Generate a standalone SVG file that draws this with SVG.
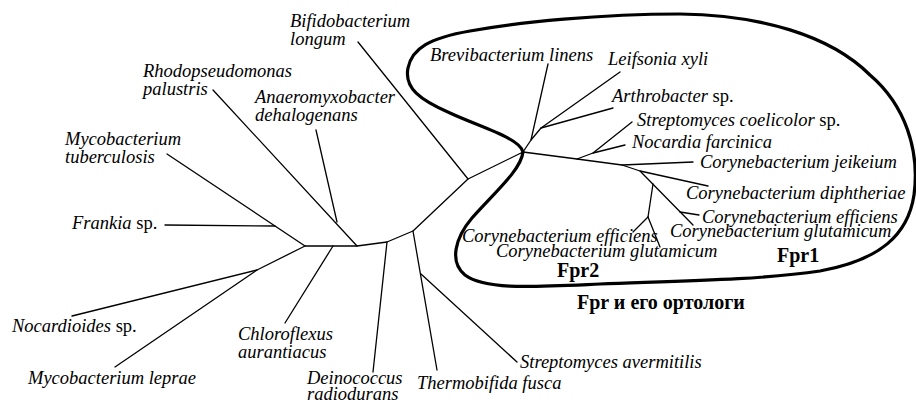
<svg xmlns="http://www.w3.org/2000/svg" width="916" height="403" viewBox="0 0 916 403">
<style>
.t{font-family:'Liberation Serif',Tinos,'DejaVu Serif',serif;font-style:italic;font-size:18.5px;fill:#000}
.t tspan.n{font-style:normal}
.b{font-family:'Liberation Serif',Tinos,'DejaVu Serif',serif;font-weight:bold;font-size:20px;fill:#000}
.br{stroke:#000;stroke-width:1.3;fill:none;stroke-linecap:round;stroke-linejoin:round}
.loop{stroke:#000;stroke-width:3.2;fill:none}
</style>
<rect width="916" height="403" fill="#fff"/>
<g id="connectors">
<polyline class="br" points="167,154 305,246 357,246 387,242 413,231 468,179 523,152 577,159 622,165 640,171 693,225"/>
<line class="br" x1="165" y1="225" x2="275" y2="226"/>
<polyline class="br" points="305,246 257,270 72,316"/>
<line class="br" x1="257" y1="270" x2="115" y2="367"/>
<line class="br" x1="333" y1="246" x2="285" y2="323"/>
<line class="br" x1="213" y1="90" x2="357" y2="246"/>
<line class="br" x1="316" y1="130" x2="337" y2="222"/>
<line class="br" x1="387" y1="242" x2="373" y2="372"/>
<line class="br" x1="413" y1="231" x2="437" y2="370"/>
<line class="br" x1="421" y1="274" x2="517" y2="362"/>
<line class="br" x1="358" y1="42" x2="468" y2="179"/>
<polyline class="br" points="523,152 531,140 548,64"/>
<polyline class="br" points="531,140 541,128 620,72"/>
<line class="br" x1="541" y1="128" x2="613" y2="108"/>
<polyline class="br" points="577,159 593,153 632,122"/>
<line class="br" x1="593" y1="153" x2="625" y2="145"/>
<line class="br" x1="622" y1="165" x2="693" y2="162"/>
<line class="br" x1="640" y1="171" x2="708" y2="186"/>
<line class="br" x1="653" y1="184" x2="648" y2="217"/>
<line class="br" x1="648" y1="217" x2="633" y2="232"/>
<line class="br" x1="648" y1="217" x2="660" y2="247"/>
<line class="br" x1="680" y1="212" x2="699" y2="215"/>
</g>
<g id="fpr-loop">
<path class="loop" d="M523,152 C521,170 495,192 472,218 C455,238 449,262 465,275 C485,290 530,287 600,284 C680,281 760,280 820,271 C880,260 908,235 914,195 C920,150 905,105 870,75 C830,35 760,15 680,14 C600,14 520,22 470,31 C430,38 412,48 408,68 C404,88 420,100 450,113 C480,127 520,138 523,152 Z"/>
</g>
<g id="n-bifido"><text class="t" x="290" y="27">Bifidobacterium</text><text class="t" x="290" y="45">longum</text></g>
<g id="n-rhodo"><text class="t" x="143" y="77">Rhodopseudomonas</text><text class="t" x="143" y="95">palustris</text></g>
<g id="n-anaero"><text class="t" x="255" y="103">Anaeromyxobacter</text><text class="t" x="255" y="121">dehalogenans</text></g>
<g id="n-mtub"><text class="t" x="65" y="145">Mycobacterium</text><text class="t" x="65" y="163">tuberculosis</text></g>
<g id="n-frankia"><text class="t" x="72" y="229">Frankia<tspan class="n"> sp.</tspan></text></g>
<g id="n-nocardioides"><text class="t" x="12" y="332">Nocardioides<tspan class="n"> sp.</tspan></text></g>
<g id="n-mlep"><text class="t" x="28" y="384">Mycobacterium leprae</text></g>
<g id="n-chloro"><text class="t" x="238" y="340">Chloroflexus</text><text class="t" x="238" y="358">aurantiacus</text></g>
<g id="n-deino"><text class="t" x="307" y="384">Deinococcus</text><text class="t" x="307" y="400">radiodurans</text></g>
<g id="n-thermo"><text class="t" x="417" y="389">Thermobifida fusca</text></g>
<g id="n-saver"><text class="t" x="520" y="368">Streptomyces avermitilis</text></g>
<g id="n-brevi"><text class="t" x="430" y="61">Brevibacterium linens</text></g>
<g id="n-leif"><text class="t" x="608" y="65">Leifsonia xyli</text></g>
<g id="n-arthro"><text class="t" x="612" y="102">Arthrobacter<tspan class="n"> sp.</tspan></text></g>
<g id="n-scoel"><text class="t" x="637" y="126">Streptomyces coelicolor<tspan class="n"> sp.</tspan></text></g>
<g id="n-nocardia"><text class="t" x="632" y="148">Nocardia farcinica</text></g>
<g id="n-cjei"><text class="t" x="700" y="168">Corynebacterium jeikeium</text></g>
<g id="n-cdip"><text class="t" x="686" y="199">Corynebacterium diphtheriae</text></g>
<g id="n-ceff1"><text class="t" x="702" y="223">Corynebacterium efficiens</text></g>
<g id="n-cglu1"><text class="t" x="670" y="237">Corynebacterium glutamicum</text></g>
<g id="n-ceff2"><text class="t" x="462" y="242">Corynebacterium efficiens</text></g>
<g id="n-cglu2"><text class="t" x="496" y="257">Corynebacterium glutamicum</text></g>
<g id="labels">
<text class="b" x="557" y="277">Fpr2</text>
<text class="b" x="777" y="262">Fpr1</text>
<text class="b" x="577" y="309">Fpr и его ортологи</text>
</g>
</svg>
